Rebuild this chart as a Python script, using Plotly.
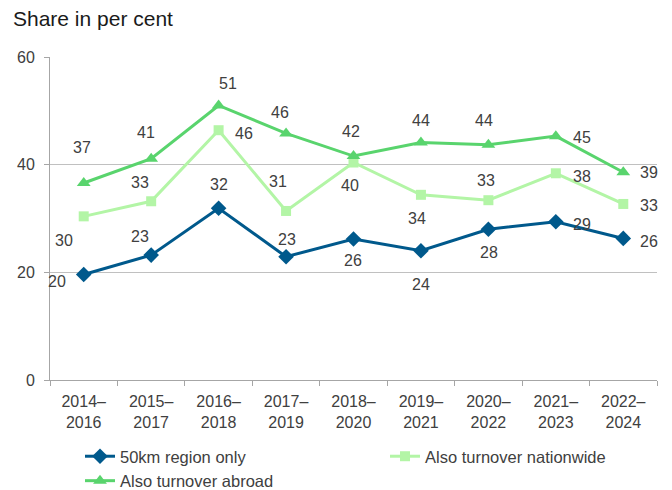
import plotly.graph_objects as go

# Rolling three-year periods
periods = ["2014–2016", "2015–2017", "2016–2018", "2017–2019", "2018–2020",
           "2019–2021", "2020–2022", "2021–2023", "2022–2024"]
period_labels = [p.replace("–", "–<br>") for p in periods]

# Share of firms in per cent
region_only = [19.6, 23.2, 31.9, 22.9, 26.2, 24.0, 28.0, 29.4, 26.3]
nationwide = [30.4, 33.2, 46.4, 31.4, 40.4, 34.4, 33.4, 38.4, 32.7]
abroad = [36.6, 41.1, 51.0, 45.8, 41.6, 44.1, 43.7, 45.3, 38.6]

series = [
    ("50km region only", region_only, "#00598c", "diamond", 12),
    ("Also turnover nationwide", nationwide, "#b3f5a6", "square", 10),
    ("Also turnover abroad", abroad, "#59d46d", "triangle-up", 12),
]

# Label offsets (px right, px down) from each point
label_offsets = {
    "50km region only": [(-27, 7), (-11, -19), (0, -24), (1, -17), (-1, 22),
                         (0, 34), (1, 23), (26, 3), (26, 3)],
    "Also turnover nationwide": [(-20, 24), (-11, -19), (25, 3), (-8, -29), (-4, 23),
                                 (-4, 24), (-2, -20), (26, 3), (26, 2)],
    "Also turnover abroad": [(-2, -35), (-5, -26), (9, -22), (-6, -21), (-3, -25),
                             (0, -22), (-4, -24), (26, 1), (26, 0)],
}

fig = go.Figure()
annotations = []
for name, values, color, symbol, size in series:
    fig.add_trace(go.Scatter(
        x=periods, y=values, name=name, mode="lines+markers",
        line=dict(color=color, width=3),
        marker=dict(symbol=symbol, size=size, color=color),
    ))
    for p, v, (dx, dy) in zip(periods, values, label_offsets[name]):
        annotations.append(dict(
            x=p, y=v, xref="x", yref="y", text=f"{v:.0f}", showarrow=False,
            xshift=dx, yshift=-dy, xanchor="center", yanchor="middle",
            font=dict(size=16, color="#404040"),
        ))

fig.update_layout(
    width=672, height=490,
    margin=dict(l=50, r=15, t=57, b=110, autoexpand=False),
    paper_bgcolor="white", plot_bgcolor="white",
    font=dict(family="Liberation Sans, Arial, sans-serif", size=16, color="#404040"),
    title=dict(
        text="Share in per cent", xref="container", yref="container",
        x=13 / 672, y=1 - 19 / 490, xanchor="left", yanchor="middle",
        font=dict(size=21, color="#1a1a1a"),
    ),
    showlegend=True,
    legend=dict(
        orientation="h", xref="container", yref="container",
        x=80 / 672, y=1 - 439 / 490, xanchor="left", yanchor="top",
        entrywidth=260, entrywidthmode="pixels", bgcolor="rgba(0,0,0,0)",
        font=dict(size=16.5, color="#404040"), tracegroupgap=0,
    ),
    annotations=annotations,
)
fig.update_xaxes(
    type="category", tickvals=periods, ticktext=period_labels,
    range=[-0.5, 8.5], tickson="boundaries", ticks="outside", ticklen=5,
    tickcolor="#a6a6a6", showline=True, linecolor="#a6a6a6", linewidth=1,
    showgrid=False, tickfont=dict(size=16, color="#404040"), ticklabelstandoff=7,
)
fig.update_yaxes(
    range=[0, 60], tickvals=[0, 20, 40, 60], ticks="outside", ticklen=5,
    tickcolor="#a6a6a6", showline=True, linecolor="#a6a6a6", linewidth=1,
    showgrid=True, gridcolor="#c0c0c0", gridwidth=1, zeroline=False,
    tickfont=dict(size=16, color="#404040"), ticklabelstandoff=6,
)

fig.write_html("out.html")
